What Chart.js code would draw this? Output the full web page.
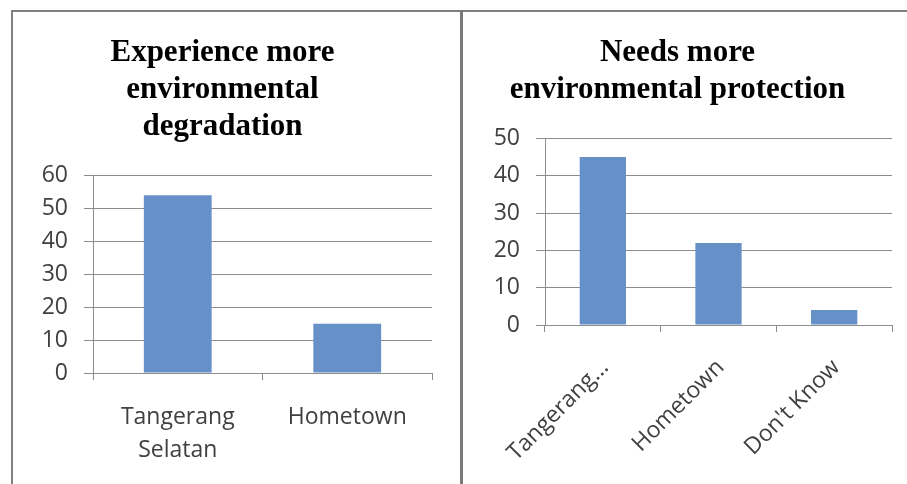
<!DOCTYPE html>
<html>
<head>
<meta charset="utf-8">
<script src="https://cdn.jsdelivr.net/npm/chart.js@4.4.1/dist/chart.umd.min.js"></script>
<style>
  html, body { margin: 0; padding: 0; background: #ffffff; width: 907px; height: 484px; overflow: hidden; }
  #frame { position: absolute; left: 11px; top: 10px; width: 900px; height: 480px;
           border-left: 2px solid #808080; border-top: 2px solid #808080; }
  #divider { position: absolute; left: 460px; top: 10px; width: 3px; height: 480px; background: #7a7a7a; }
  .panel { position: absolute; top: 12px; height: 472px; }
  #p1 { left: 13px; width: 447px; }
  #p2 { left: 463px; width: 457px; }
</style>
</head>
<body>
<div id="frame"></div>
<div id="divider"></div>
<div class="panel" id="p1"><canvas id="c1"></canvas></div>
<div class="panel" id="p2"><canvas id="c2"></canvas></div>
<script>
// Survey answers: where respondents see degradation / where protection is needed
const leftTitle = ['Experience more', 'environmental', 'degradation'];
const leftCategories = [['Tangerang', 'Selatan'], 'Hometown'];
const leftValues = [54, 15];
const leftTicks = [0, 10, 20, 30, 40, 50, 60];

const rightTitle = ['Needs more', 'environmental protection'];
const rightCategories = ['Tangerang Selatan', 'Hometown', "Don't Know"];
const rightValues = [45, 22, 4];
const rightTicks = [0, 10, 20, 30, 40, 50];

const barColor = '#6690c8';
const gridColor = '#8c8c8c';
const tickFont = { family: '"Open Sans", sans-serif', size: 23 };
const titleFont = { family: '"Liberation Serif", "Times New Roman", serif', size: 31, weight: 'bold', lineHeight: 1.2 };

function makeChart(id, opts) {
  const ticks = opts.ticks;
  const xTicks = {
    color: '#404040', font: Object.assign({}, tickFont, { lineHeight: opts.xLineHeight || 1.2 }),
    padding: opts.xPad,
    maxRotation: opts.rotation, minRotation: opts.rotation, autoSkip: false,
    labelOffset: opts.labelOffset || 0
  };
  if (opts.xCallback) xTicks.callback = opts.xCallback;
  return new Chart(document.getElementById(id), {
    type: 'bar',
    data: {
      labels: opts.categories,
      datasets: [{ data: opts.values, backgroundColor: barColor, borderWidth: 0,
                   barPercentage: 0.4, categoryPercentage: 1.0 }]
    },
    options: {
      responsive: true,
      maintainAspectRatio: false,
      animation: false,
      layout: { padding: { left: 0, right: 28, top: 0, bottom: 0 } },
      plugins: {
        legend: { display: false },
        tooltip: { enabled: false },
        title: {
          display: true, text: opts.title, color: '#000000', font: titleFont,
          padding: { top: 22, bottom: opts.titleBottom }
        }
      },
      scales: {
        x: {
          grid: { display: true, drawOnChartArea: false, offset: true, color: gridColor, tickLength: 7, tickWidth: 1 },
          border: { color: gridColor, width: 1 },
          ticks: xTicks,
          afterFit: s => { s.height = opts.xHeight; }
        },
        y: {
          min: ticks[0], max: ticks[ticks.length - 1],
          afterBuildTicks: s => { s.ticks = ticks.map(v => ({ value: v })); },
          grid: { color: gridColor, tickLength: 9, lineWidth: 1 },
          border: { color: gridColor, width: 1 },
          ticks: { color: '#404040', font: tickFont, padding: 16 },
          afterFit: s => { s.width = opts.yWidth; }
        }
      }
    }
  });
}

makeChart('c1', {
  title: leftTitle, titleBottom: 30, categories: leftCategories, values: leftValues, ticks: leftTicks,
  rotation: 0, xPad: 21, xHeight: 111, yWidth: 80, xLineHeight: 1.43
});

makeChart('c2', {
  title: rightTitle, titleBottom: 30, categories: rightCategories, values: rightValues, ticks: rightTicks,
  rotation: 45, xPad: 22, xHeight: 159, yWidth: 82, labelOffset: 2,
  // long category names are shortened on the slanted axis
  xCallback: function (v) {
    const s = this.getLabelForValue(v);
    return s.length > 12 ? s.split(' ')[0] + '...' : s;
  }
});
</script>
</body>
</html>
